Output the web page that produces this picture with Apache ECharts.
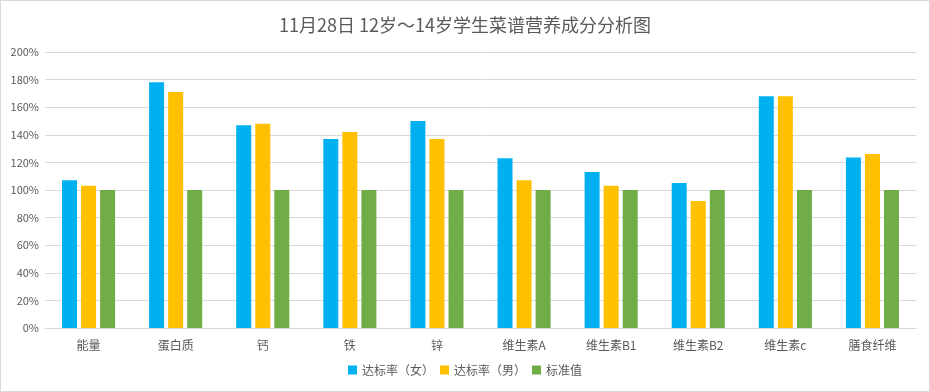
<!DOCTYPE html>
<html><head><meta charset="utf-8">
<script src="https://cdn.jsdelivr.net/npm/echarts@6/dist/echarts.min.js"></script>
<style>html,body{margin:0;padding:0;background:#fff}#c{width:930px;height:392px;box-sizing:border-box;border:1px solid #D9D9D9}</style>
</head><body><div id="c"></div>
<script>
const categories = ['能量','蛋白质','钙','铁','锌','维生素A','维生素B1','维生素B2','维生素c','膳食纤维'];
const femaleRate = [107,178,147,137,150,123,113,105,168,123.5];
const maleRate = [103,171,148,142,137,107,103,92,168,126];
const standard = [100,100,100,100,100,100,100,100,100,100];
const seriesNames = ['达标率（女）','达标率（男）','标准值'];
const colors = ['#00B0F0','#FFC000','#70AD47'];
const font = '"Noto Sans CJK SC", "Microsoft YaHei", sans-serif';
const chart = echarts.init(document.getElementById('c'), null, {renderer:'canvas'});
chart.setOption({
  animation:false,
  title:{text:'11月28日 12岁～14岁学生菜谱营养成分分析图',left:'center',top:10,
    textStyle:{fontFamily:font,fontSize:18,fontWeight:'normal',color:'#595959'}},
  legend:{bottom:10,itemWidth:9,itemHeight:9,itemGap:6,icon:'rect',
    textStyle:{fontFamily:font,fontSize:12,color:'#595959'},data:seriesNames},
  grid:{left:44,right:13,top:51,bottom:63,containLabel:false},
  xAxis:{type:'category',data:categories,
    axisLine:{lineStyle:{color:'#D9D9D9'}},axisTick:{show:false},
    axisLabel:{fontFamily:font,fontSize:12,color:'#595959',margin:11}},
  yAxis:{type:'value',min:0,max:200,interval:20,
    axisLabel:{formatter:'{value}%',fontFamily:font,fontSize:11,color:'#595959',margin:6},
    splitLine:{lineStyle:{color:'#D9D9D9'}},axisLine:{show:false},axisTick:{show:false}},
  series:[
    {name:seriesNames[0],type:'bar',data:femaleRate,barWidth:15,barGap:'27%',itemStyle:{color:colors[0]}},
    {name:seriesNames[1],type:'bar',data:maleRate,barWidth:15,barGap:'27%',itemStyle:{color:colors[1]}},
    {name:seriesNames[2],type:'bar',data:standard,barWidth:15,barGap:'27%',itemStyle:{color:colors[2]}}
  ]
});
</script></body></html>
